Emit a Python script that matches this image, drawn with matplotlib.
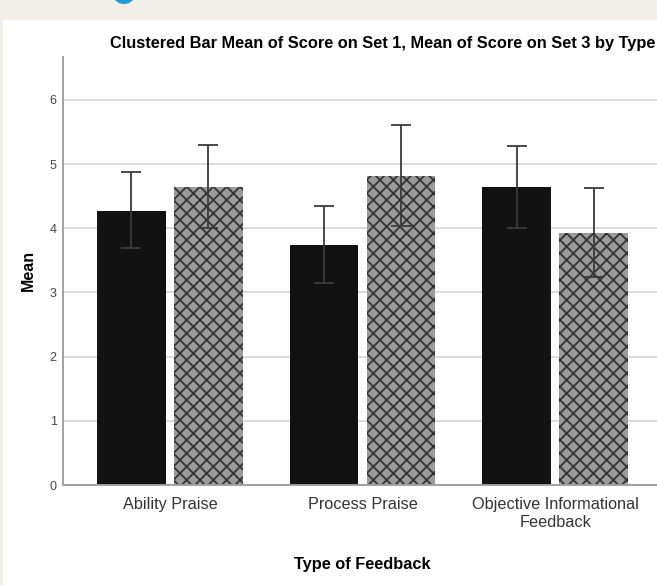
import numpy as np
import matplotlib
matplotlib.use("Agg")
from matplotlib import pyplot as plt
from matplotlib.patches import Rectangle, Ellipse

# figure is built at 80 dpi so the crosshatch comes out at the right pitch;
# pt() converts sizes given for a 100 dpi canvas
DPI = 80
def pt(v):
    return v * 100 / DPI

plt.rcParams['font.family'] = ['Liberation Sans', 'DejaVu Sans']
plt.rcParams['hatch.linewidth'] = pt(1.3)

# Mean scores and 95% CI bounds per feedback type
categories = ['Ability Praise', 'Process Praise', 'Objective Informational\nFeedback']
set1_mean = [4.27, 3.74, 4.64]
set1_lo = [3.69, 3.15, 4.01]
set1_hi = [4.88, 4.35, 5.28]
set3_mean = [4.65, 4.82, 3.92]
set3_lo = [4.00, 4.04, 3.24]
set3_hi = [5.30, 5.61, 4.63]

W, H = 657, 585
fig = plt.figure(figsize=(W / DPI, H / DPI), dpi=DPI)
fig.patch.set_facecolor('white')

# page background strips around the output panel
fig.patches.append(Rectangle((0, 1 - 20 / H), 1, 20 / H, transform=fig.transFigure,
                             facecolor='#f2efe8', edgecolor='none', zorder=0))
fig.patches.append(Rectangle((0, 0), 3 / W, 1, transform=fig.transFigure,
                             facecolor='#f2efe8', edgecolor='none', zorder=0))
fig.patches.append(Ellipse((124 / W, 1 + 8 / H), 24 / W, 24 / H, transform=fig.transFigure,
                           facecolor='#1f9dd9', edgecolor='none', zorder=1))

ax = fig.add_axes([63 / W, 100 / H, 599 / W, 428 / H])
x = np.arange(len(categories))
w = 0.355
off = 0.2

def err(mean, lo, hi):
    mean = np.array(mean)
    return [mean - np.array(lo), np.array(hi) - mean]

ax.bar(x - off, set1_mean, w, facecolor='#121212', linewidth=0, zorder=2)
ax.bar(x + off, set3_mean, w, facecolor='#9a9a9a', edgecolor='#333333', linewidth=0,
       hatch='xx', zorder=2)
ax.errorbar(x - off, set1_mean, yerr=err(set1_mean, set1_lo, set1_hi), fmt='none',
            ecolor='#3a3a3a', elinewidth=pt(1.3), capsize=pt(7), capthick=pt(1.3), zorder=3)
ax.errorbar(x + off, set3_mean, yerr=err(set3_mean, set3_lo, set3_hi), fmt='none',
            ecolor='#3a3a3a', elinewidth=pt(1.3), capsize=pt(7), capthick=pt(1.3), zorder=3)

ax.set_xlim(-0.555, 2.555)
ax.set_ylim(0, 6.67)
ax.set_yticks(range(7))
ax.set_xticks(x)
ax.set_xticklabels(categories, fontsize=pt(11.7), color='#333333', linespacing=1.3)
ax.tick_params(axis='y', length=0, pad=pt(4.5), labelsize=pt(9), labelcolor='#444444')
ax.tick_params(axis='x', length=0, pad=pt(8.5))
ax.yaxis.grid(True, color='#d6d6d6', linewidth=pt(1.2))
ax.set_axisbelow(True)
for s in ['top', 'right']:
    ax.spines[s].set_visible(False)
for s in ['left', 'bottom']:
    ax.spines[s].set_color('#a0a0a0')
    ax.spines[s].set_linewidth(pt(1.4))

fig.text(28 / W, (H - 270) / H, 'Mean', rotation=90, ha='center', va='center',
         fontsize=pt(11.5), fontweight='bold')
fig.text(362 / W, (H - 569) / H, 'Type of Feedback', ha='center', va='baseline',
         fontsize=pt(11.8), fontweight='bold')
fig.text(110 / W, (H - 48) / H,
         'Clustered Bar Mean of Score on Set 1, Mean of Score on Set 3 by Type',
         ha='left', va='baseline', fontsize=pt(11.8), fontweight='bold')

fig.savefig('out.png', dpi=DPI)
